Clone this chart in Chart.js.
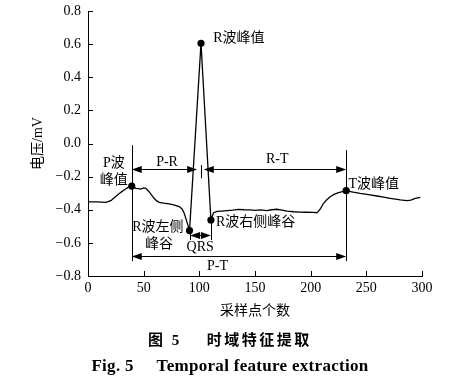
<!DOCTYPE html>
<html><head><meta charset="utf-8">
<script src="https://cdn.jsdelivr.net/npm/chart.js@4/dist/chart.umd.min.js"></script>
<style>
html,body{margin:0;padding:0;background:#fff;}
#wrap{position:relative;width:458px;height:386px;overflow:hidden;}
#c{position:absolute;left:0;top:0;}
.cap{position:absolute;left:0;width:460px;text-align:center;color:#000;white-space:pre;font-weight:bold;}
#cap1{top:330px;font:bold 15px 'Liberation Serif','Noto Sans CJK SC',serif;line-height:20px;letter-spacing:2.5px;}
#cap2{top:356px;font:bold 17px 'Liberation Serif','Noto Sans CJK SC',serif;line-height:20px;letter-spacing:0.3px;}
</style></head>
<body>
<div id="wrap">
<canvas id="c" width="458" height="386"></canvas>
<div class="cap" id="cap1">图 5&#160;&#160;&#160;&#160;时域特征提取</div>
<div class="cap" id="cap2">Fig. 5&#160;&#160;&#160;&#160;&#160;Temporal feature extraction</div>
</div>
<script>
// ---- data ----
const sampleIndex = [0,8,16,20.5,23,26.5,29.5,32.4,36,39.3,43,45,47.4,50,51.9,54.9,57,59.4,61.5,63.9,68,72.9,77,81.9,84.5,86.4,88.8,91.2,101.5,110.4,112.8,116,120,125,130,135,140,145.6,150,155,160.6,165,169.6,174,179,184.6,190,196,202.6,205.5,207,209,211.5,214.5,217.5,221,225,228.5,231.9,238,244.5,252,259.5,265.5,271.5,276,280.5,286.5,290,294,298.5];
const voltage = [-0.352,-0.353,-0.355,-0.345,-0.33,-0.311,-0.295,-0.281,-0.265,-0.257,-0.271,-0.272,-0.275,-0.268,-0.271,-0.291,-0.31,-0.331,-0.345,-0.355,-0.36,-0.365,-0.37,-0.381,-0.395,-0.421,-0.472,-0.526,0.605,-0.462,-0.418,-0.41,-0.408,-0.405,-0.402,-0.398,-0.4,-0.401,-0.404,-0.401,-0.405,-0.4,-0.397,-0.402,-0.408,-0.412,-0.414,-0.415,-0.416,-0.418,-0.41,-0.392,-0.361,-0.34,-0.321,-0.307,-0.297,-0.29,-0.285,-0.293,-0.301,-0.309,-0.317,-0.324,-0.331,-0.336,-0.341,-0.345,-0.342,-0.331,-0.325];

// feature points: P peak, R left valley, R peak, R right valley, T peak
const featureX = [39.3, 91.2, 101.5, 110.4, 231.9];
const featureY = [-0.257, -0.526, 0.605, -0.462, -0.285];

// vertical guide lines [x, yTop, yBottom] in data units
const guideX = [39.3, 231.9, 101.5, 91.7, 110.4];
const guideTop = [-0.01, -0.04, -0.13, -0.533, -0.462];
const guideBottom = [-0.71, -0.71, -0.21, -0.583, -0.583];

// double-headed interval arrows
const arrowFrom = [39.3, 104, 91.7, 39.3];
const arrowTo = [98, 231.9, 110.4, 231.9];
const arrowLevel = [-0.155, -0.155, -0.551, -0.681];

// annotation texts and anchors (data units)
const noteText = ['R波峰值','P波','峰值','P-R','R-T','T波峰值','R波右侧峰谷','R波左侧','峰谷','QRS','P-T'];
const noteX = [112.4, 23.2, 23.2, 71, 170, 234, 115, 62.7, 63.7, 100.8, 116.3];
const noteY = [0.637, -0.12, -0.222, -0.116, -0.095, -0.246, -0.478, -0.508, -0.609, -0.629, -0.744];
const noteAlign = ['left','center','center','center','center','left','left','center','center','center','center'];

const xMin = 0, xMax = 300, xStep = 50;
const yMin = -0.8, yMax = 0.8, yStep = 0.2;
const xTitle = '采样点个数';
const yTitle = '电压/mV';

// ---- chart ----
const FONT = "'Liberation Serif','Noto Sans CJK SC',serif";
Chart.defaults.font.family = FONT;
Chart.defaults.font.size = 14;
Chart.defaults.color = '#000';

const annot = {
  id: 'annot',
  afterDatasetsDraw(chart) {
    const {ctx, scales: {x, y}, chartArea: a} = chart;
    ctx.save();
    ctx.strokeStyle = '#000';
    ctx.fillStyle = '#000';
    ctx.lineWidth = 1;
    const seg = (x1, y1, x2, y2) => { ctx.beginPath(); ctx.moveTo(x1, y1); ctx.lineTo(x2, y2); ctx.stroke(); };
    // inward tick marks
    x.ticks.forEach(t => { const px = Math.round(x.getPixelForValue(t.value)) + 0.5; seg(px, a.bottom, px, a.bottom - 5); });
    y.ticks.forEach(t => { const py = Math.round(y.getPixelForValue(t.value)) + 0.5; seg(a.left, py, a.left + 5, py); });
    // guide lines
    guideX.forEach((gx, i) => {
      const px = Math.round(x.getPixelForValue(gx)) + 0.5;
      seg(px, y.getPixelForValue(guideTop[i]), px, y.getPixelForValue(guideBottom[i]));
    });
    // arrows
    const L = 10, W = 3.5;
    arrowFrom.forEach((ax, i) => {
      const x1 = x.getPixelForValue(ax), x2 = x.getPixelForValue(arrowTo[i]);
      const py = Math.round(y.getPixelForValue(arrowLevel[i])) + 0.5;
      seg(x1 + 2, py, x2 - 2, py);
      ctx.beginPath(); ctx.moveTo(x1, py); ctx.lineTo(x1 + L, py - W); ctx.lineTo(x1 + L, py + W); ctx.closePath(); ctx.fill();
      ctx.beginPath(); ctx.moveTo(x2, py); ctx.lineTo(x2 - L, py - W); ctx.lineTo(x2 - L, py + W); ctx.closePath(); ctx.fill();
    });
    // texts
    ctx.font = '14px ' + FONT;
    ctx.textBaseline = 'middle';
    noteText.forEach((t, i) => {
      ctx.textAlign = noteAlign[i];
      ctx.fillText(t, x.getPixelForValue(noteX[i]), y.getPixelForValue(noteY[i]));
    });
    ctx.restore();
  }
};

new Chart(document.getElementById('c'), {
  type: 'line',
  data: {
    datasets: [
      {
        data: featureX.map((v, i) => ({x: v, y: featureY[i]})),
        showLine: false, pointRadius: 3.6, pointBackgroundColor: '#000', pointBorderWidth: 0, order: 0
      },
      {
        data: sampleIndex.map((v, i) => ({x: v, y: voltage[i]})),
        borderColor: '#000', borderWidth: 1.3, pointRadius: 0, tension: 0, fill: false, order: 1
      }
    ]
  },
  options: {
    responsive: false, animation: false, devicePixelRatio: 1,
    layout: {padding: {left: 0, right: 36, top: 11, bottom: 65}},
    plugins: {legend: {display: false}, tooltip: {enabled: false}},
    scales: {
      x: {
        type: 'linear', min: xMin, max: xMax,
        ticks: {stepSize: xStep, padding: 4, maxRotation: 0, color: '#000', font: {size: 14}},
        grid: {display: false, drawTicks: false},
        border: {display: true, color: '#000', width: 1},
        title: {display: true, text: xTitle, font: {size: 14}, padding: {top: 0, bottom: 1}, color: '#000'},
        afterFit(s) { s.height = 45; s.paddingLeft = 0; s.paddingRight = 0; }
      },
      y: {
        type: 'linear', min: yMin, max: yMax,
        ticks: {stepSize: yStep, padding: 7, color: '#000', font: {size: 14},
          callback: v => Math.abs(v) < 1e-9 ? '0.0' : (v < 0 ? '\u2212' : '') + Math.abs(v).toFixed(1)},
        grid: {display: false, drawTicks: false},
        border: {display: true, color: '#000', width: 1},
        title: {display: true, text: yTitle, font: {size: 14}, padding: {top: 30, bottom: 0}, color: '#000'},
        afterFit(s) { s.width = 88; s.paddingTop = 0; s.paddingBottom = 0; }
      }
    }
  },
  plugins: [annot]
});
</script>
</body></html>
